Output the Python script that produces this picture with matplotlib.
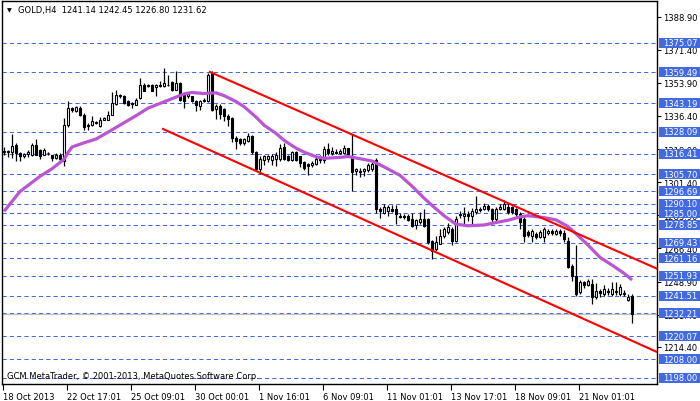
import matplotlib.pyplot as plt
import matplotlib.transforms as mtransforms
from matplotlib.patches import Rectangle
import numpy as np

plt.rcParams['font.family'] = 'DejaVu Sans'

symbol = 'GOLD,H4'
last_ohlc = [1241.14, 1242.45, 1226.80, 1231.62]

# H4 candles
opens = [1318.0, 1317.5, 1317.4, 1321.3, 1317.0, 1315.1, 1316.3, 1315.5, 1320.8, 1318.6,
         1316.0, 1317.0, 1315.5, 1314.2, 1316.0, 1312.5, 1331.8, 1340.6, 1339.0, 1340.6,
         1337.1, 1330.9, 1331.8, 1332.5, 1330.9, 1334.5, 1334.5, 1337.1, 1342.8, 1347.6,
         1347.0, 1344.5, 1342.8, 1342.4, 1345.9, 1352.9, 1352.0, 1352.9, 1351.5, 1352.0,
         1352.0, 1352.9, 1354.3, 1350.3, 1353.8, 1347.6, 1346.8, 1346.8, 1344.5, 1341.5,
         1344.5, 1344.5, 1359.0, 1340.0, 1341.7, 1339.9, 1336.4, 1335.5, 1325.0, 1324.0,
         1322.0, 1323.2, 1325.9, 1317.1, 1308.3, 1313.2, 1313.6, 1313.2, 1313.6, 1313.6,
         1320.2, 1315.3, 1313.2, 1317.4, 1315.0, 1312.2, 1311.0, 1310.4, 1311.0, 1313.6,
         1313.2, 1318.8, 1316.8, 1317.4, 1317.0, 1316.8, 1319.2, 1315.3, 1307.5, 1307.5,
         1307.5, 1308.0, 1308.3, 1313.0, 1287.2, 1285.0, 1286.1, 1287.5, 1287.5, 1283.7,
         1283.7, 1283.7, 1282.0, 1278.8, 1280.2, 1281.9, 1281.9, 1270.4, 1266.1, 1268.7,
         1273.1, 1275.0, 1276.5, 1270.5, 1284.0, 1283.8, 1284.6, 1283.7, 1285.4, 1287.2,
         1287.2, 1289.0, 1287.2, 1282.0, 1287.5, 1287.2, 1288.5, 1288.1, 1287.0, 1284.6,
         1281.9, 1274.9, 1273.1, 1274.0, 1272.5, 1272.3, 1274.5, 1275.5, 1274.0, 1275.8,
         1274.5, 1270.5, 1257.0, 1252.0, 1243.2, 1248.5, 1247.0, 1247.7, 1240.6, 1244.1,
         1242.4, 1244.1, 1242.4, 1243.2, 1242.4, 1243.0, 1239.2, 1241.14]
highs = [1320.0, 1318.6, 1326.9, 1322.0, 1317.5, 1317.0, 1318.5, 1322.2, 1324.0, 1319.0,
         1319.2, 1317.5, 1316.0, 1316.8, 1317.0, 1335.3, 1344.5, 1341.3, 1341.8, 1341.5,
         1338.0, 1332.5, 1336.2, 1333.8, 1335.8, 1336.0, 1338.9, 1349.0, 1350.3, 1348.0,
         1347.5, 1345.0, 1344.0, 1346.0, 1356.4, 1353.8, 1353.5, 1353.5, 1353.0, 1354.7,
         1361.7, 1358.2, 1354.8, 1360.3, 1354.5, 1348.0, 1348.8, 1347.0, 1344.8, 1345.0,
         1346.0, 1359.0, 1360.0, 1342.5, 1342.5, 1340.5, 1337.5, 1336.0, 1326.0, 1325.0,
         1325.0, 1327.6, 1326.5, 1318.0, 1315.3, 1316.0, 1316.0, 1316.5, 1317.5, 1321.5,
         1322.0, 1316.0, 1318.0, 1318.0, 1315.3, 1312.8, 1311.5, 1312.5, 1314.5, 1316.0,
         1320.6, 1322.0, 1320.0, 1318.8, 1318.8, 1321.0, 1319.5, 1326.8, 1309.0, 1309.0,
         1309.0, 1311.5, 1312.0, 1314.0, 1288.5, 1290.0, 1289.5, 1289.5, 1289.5, 1285.0,
         1284.5, 1284.5, 1285.0, 1282.0, 1285.4, 1287.0, 1282.5, 1271.0, 1273.0, 1276.5,
         1278.0, 1280.0, 1277.5, 1283.5, 1286.3, 1288.1, 1286.0, 1288.0, 1294.2, 1288.1,
         1290.5, 1290.0, 1288.0, 1288.5, 1290.0, 1292.0, 1290.5, 1289.0, 1288.0, 1285.4,
         1283.0, 1276.0, 1276.5, 1275.0, 1276.0, 1277.5, 1276.5, 1276.6, 1276.6, 1276.6,
         1276.0, 1272.3, 1258.2, 1268.0, 1250.0, 1249.4, 1250.3, 1250.3, 1248.0, 1245.0,
         1247.0, 1245.5, 1248.5, 1248.5, 1247.7, 1244.5, 1242.5, 1242.45]
lows = [1316.0, 1314.5, 1314.2, 1312.5, 1312.5, 1314.0, 1314.5, 1315.0, 1315.5, 1313.5,
        1315.5, 1315.8, 1312.5, 1313.8, 1311.6, 1309.9, 1330.5, 1338.5, 1338.5, 1336.5,
        1328.8, 1328.8, 1331.3, 1332.0, 1330.5, 1334.0, 1334.0, 1336.8, 1342.0, 1346.0,
        1342.5, 1341.5, 1340.6, 1342.0, 1345.5, 1349.5, 1351.5, 1349.5, 1346.8, 1351.5,
        1351.5, 1352.0, 1349.8, 1350.0, 1344.1, 1340.6, 1346.0, 1343.5, 1338.9, 1339.7,
        1344.0, 1344.0, 1339.0, 1334.6, 1334.6, 1333.5, 1331.0, 1322.5, 1318.8, 1321.0,
        1321.0, 1322.5, 1316.5, 1307.5, 1305.8, 1310.5, 1312.0, 1310.5, 1310.0, 1312.5,
        1313.0, 1312.5, 1312.5, 1312.5, 1309.5, 1308.0, 1305.0, 1309.5, 1310.5, 1311.8,
        1311.5, 1315.5, 1316.0, 1316.5, 1316.5, 1316.5, 1315.5, 1296.8, 1305.0, 1304.0,
        1304.8, 1307.0, 1307.5, 1285.0, 1282.6, 1284.5, 1283.7, 1285.5, 1279.5, 1282.5,
        1282.0, 1281.0, 1277.5, 1276.5, 1279.5, 1278.0, 1268.5, 1261.0, 1265.0, 1268.5,
        1272.0, 1274.0, 1268.0, 1270.0, 1282.5, 1279.3, 1281.0, 1279.3, 1284.6, 1285.4,
        1286.5, 1286.3, 1280.2, 1280.5, 1286.5, 1286.5, 1284.6, 1284.6, 1283.5, 1276.6,
        1269.6, 1272.5, 1269.6, 1271.5, 1272.0, 1269.6, 1273.5, 1273.5, 1273.5, 1273.0,
        1270.0, 1256.0, 1249.4, 1241.5, 1242.5, 1245.5, 1246.5, 1237.1, 1239.5, 1241.0,
        1241.5, 1242.0, 1241.5, 1242.0, 1241.5, 1241.5, 1238.5, 1226.80]
closes = [1317.5, 1317.8, 1320.4, 1316.9, 1315.1, 1316.5, 1317.5, 1321.3, 1316.0, 1315.1,
          1318.6, 1316.6, 1314.4, 1316.0, 1313.8, 1331.8, 1340.6, 1339.5, 1341.0, 1337.1,
          1330.5, 1331.8, 1333.6, 1333.0, 1334.5, 1335.3, 1337.1, 1343.2, 1347.6, 1346.8,
          1343.2, 1342.4, 1343.2, 1345.0, 1352.9, 1349.8, 1352.9, 1349.8, 1352.5, 1352.6,
          1353.8, 1352.5, 1350.3, 1353.8, 1345.0, 1344.5, 1348.0, 1344.1, 1342.4, 1344.5,
          1345.0, 1358.2, 1339.7, 1341.5, 1337.3, 1336.4, 1334.6, 1325.0, 1323.2, 1322.0,
          1324.1, 1325.9, 1317.1, 1308.3, 1313.6, 1315.3, 1315.0, 1315.3, 1316.0, 1319.7,
          1313.6, 1313.2, 1317.4, 1313.2, 1311.8, 1309.0, 1310.0, 1311.4, 1313.6, 1313.2,
          1318.8, 1316.8, 1318.0, 1316.8, 1318.0, 1319.2, 1316.2, 1306.9, 1308.3, 1306.7,
          1308.3, 1310.4, 1311.0, 1287.2, 1286.1, 1288.5, 1288.5, 1286.3, 1284.6, 1283.0,
          1282.8, 1281.6, 1278.4, 1281.6, 1282.0, 1278.4, 1270.0, 1265.2, 1269.6, 1273.1,
          1276.6, 1277.5, 1270.5, 1282.0, 1284.6, 1284.8, 1283.5, 1286.3, 1287.2, 1286.5,
          1289.0, 1287.0, 1282.0, 1287.2, 1288.5, 1289.8, 1285.4, 1285.5, 1284.6, 1280.2,
          1273.1, 1273.5, 1275.8, 1272.3, 1275.3, 1276.6, 1275.8, 1274.5, 1275.8, 1274.5,
          1271.4, 1256.4, 1252.0, 1242.4, 1248.5, 1247.0, 1249.0, 1240.6, 1244.1, 1242.8,
          1245.0, 1243.2, 1245.0, 1244.1, 1246.0, 1242.6, 1241.0, 1231.62]

# moving average (purple), sampled along the line
ma_bars = [0, 4, 9, 12, 15, 16, 17, 20, 23, 26, 30, 33, 36, 39, 42, 45, 47, 50, 53, 55,
           58, 60, 63, 65, 68, 70, 73, 75, 78, 80, 84, 86, 89, 92, 95, 99, 102, 105, 108, 110,
           113, 116, 120, 123, 126, 129, 131, 135, 138, 141, 143, 146, 149, 152, 155, 157]
ma_values = [1286.0, 1296.5, 1304.5, 1308.5, 1313.5, 1317.0, 1320.0, 1322.2, 1324.2, 1327.8,
             1332.8, 1336.5, 1340.5, 1343.0, 1345.5, 1348.0, 1348.8, 1348.2, 1348.6, 1347.1,
             1344.0, 1341.3, 1335.8, 1331.5, 1327.2, 1323.5, 1319.4, 1317.3, 1314.8, 1314.0,
             1314.5, 1315.0, 1313.8, 1312.6, 1309.5, 1305.0, 1299.3, 1293.0, 1287.3, 1283.7,
             1279.2, 1278.4, 1278.8, 1280.1, 1281.3, 1283.1, 1283.7, 1282.7, 1281.5, 1278.0,
             1274.2, 1268.2, 1261.7, 1257.6, 1253.3, 1249.8]

# trend channel anchors (bar, price), drawn as rays to the right
upper_anchor = [(51.5, 1359.6), (87.0, 1326.6)]
lower_anchor = [(39.75, 1329.5), (106.75, 1265.6)]

levels = [1375.07, 1359.49, 1343.19, 1328.09, 1316.41, 1305.70, 1296.69, 1290.10, 1285.00,
          1278.85, 1269.43, 1261.16, 1251.93, 1241.51, 1232.21, 1220.07, 1208.00, 1198.00]
price_ticks = [1388.90, 1371.40, 1353.90, 1336.40, 1318.90, 1301.40, 1283.90, 1266.40,
               1248.90, 1231.40, 1214.40]
date_labels = ['18 Oct 2013', '22 Oct 17:01', '25 Oct 09:01', '30 Oct 00:01', '1 Nov 16:01',
               '6 Nov 09:01', '11 Nov 01:01', '13 Nov 17:01', '18 Nov 09:01', '21 Nov 01:01']
bars_per_label = 16

W, H = 700, 402
fig = plt.figure(figsize=(W / 100, H / 100), dpi=100)
ax = fig.add_axes([2 / W, 17 / H, 655 / W, 383 / H])
ax.set_xlim(-0.5, 163.25)
ax.set_ylim(1194.83, 1397.09)

blue = '#4169e1'
for lv in levels:
    ax.axhline(lv, color=blue, lw=0.75, ls=(0, (4, 3)), zorder=1)
ax.axhline(last_ohlc[3], color='#c0c0c0', lw=0.9, zorder=1.2)

# candles
o = np.array(opens)
c = np.array(closes)
x = np.arange(len(c))
up = c >= o
ax.vlines(x, lows, highs, color='black', lw=0.9, zorder=3)
ax.bar(x[up], (c - o)[up], bottom=o[up], width=0.5, color='white',
       edgecolor='black', lw=0.8, zorder=4)
ax.bar(x[~up], (o - c)[~up], bottom=c[~up], width=0.5, color='black',
       edgecolor='black', lw=0.8, zorder=4)

ax.plot(ma_bars, ma_values, color='mediumorchid', lw=2.3, zorder=5, solid_capstyle='butt')

x_end = ax.get_xlim()[1]
for (x0, y0), (x1, y1) in [upper_anchor, lower_anchor]:
    slope = (y1 - y0) / (x1 - x0)
    ax.plot([x0, x_end], [y0, y0 + slope * (x_end - x0)], color='red', lw=1.5, zorder=5)

# axes, ticks
for sp in ax.spines.values():
    sp.set_color('black')
    sp.set_linewidth(1)
ax.yaxis.tick_right()
ax.set_yticks(price_ticks)
ax.set_yticklabels([f'{v:.2f}' for v in price_ticks])
ax.tick_params(axis='y', direction='out', length=3, width=0.8, pad=1.5, labelsize=6)
ax.set_xticks(np.arange(len(date_labels)) * bars_per_label - 0.25)
ax.set_xticklabels(date_labels, ha='left')
ax.tick_params(axis='x', direction='out', length=4, width=0.8, pad=1.5, labelsize=6)

# level labels on the price scale
trans = mtransforms.blended_transform_factory(fig.transFigure, ax.transData)
px_per_unit = ax.bbox.height / (ax.get_ylim()[1] - ax.get_ylim()[0])
box_h = 10 / px_per_unit
for lv in levels:
    ax.add_patch(Rectangle((659 / W, lv - box_h / 2), 41 / W, box_h, transform=trans,
                           facecolor=blue, edgecolor='none', clip_on=False, zorder=6))
    ax.text(663 / W, lv, f'{lv:.2f}', transform=trans, color='white', fontsize=6,
            va='center', ha='left', zorder=7, clip_on=False)

fig.text(7 / W, 1 - 10.5 / H, '\u25bc', fontsize=4.5, va='center', ha='left')
fig.text(18 / W, 1 - 10.5 / H, f'{symbol}  ' + ' '.join(f'{v:.2f}' for v in last_ohlc),
         fontsize=6, va='center', ha='left')
fig.text(7 / W, 1 - 377 / H, 'GCM MetaTrader, \u00a9 2001-2013, MetaQuotes Software Corp.',
         fontsize=6, va='center', ha='left')

fig.savefig('out.png', dpi=100)
